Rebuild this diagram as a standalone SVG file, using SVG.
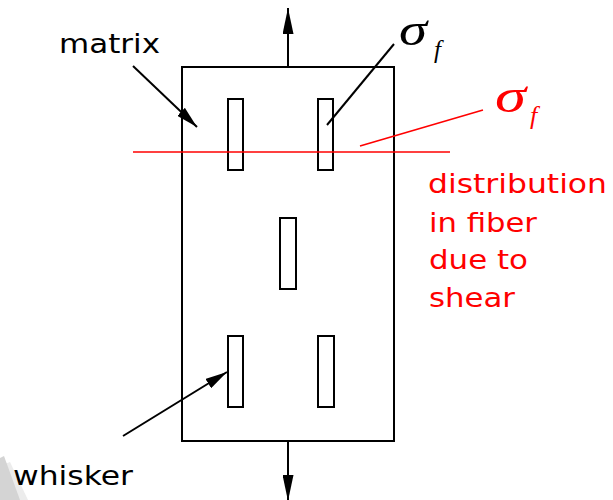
<svg xmlns="http://www.w3.org/2000/svg" width="613" height="500" viewBox="0 0 613 500">
<style>
.blk{fill:none;stroke:#000;stroke-width:2}
.fib{fill:#fff;stroke:#000;stroke-width:2}
.lbl{font-family:"DejaVu Sans","Verdana",sans-serif;font-size:26px}
.red{fill:#ff0000}
.sig{font-family:"Liberation Serif","Times New Roman",serif;font-style:italic}
.ln{fill:none;stroke:#000;stroke-width:2}
.rln{fill:none;stroke:#ff0000;stroke-width:1.6}
</style>
<defs>
<marker id="bigHead" markerUnits="userSpaceOnUse" markerWidth="26" markerHeight="11" refX="26" refY="5.5" orient="auto">
<path d="M0,0 L26,5.5 L0,11 z" fill="#000"/>
</marker>
<marker id="ptrHead" markerUnits="userSpaceOnUse" markerWidth="22" markerHeight="11" refX="22" refY="5.5" orient="auto">
<path d="M0,0 L22,5.5 L0,11 z" fill="#000"/>
</marker>
</defs>
<rect width="613" height="500" fill="#fff"/>
<g id="corner">
<polygon points="0,466 10,462 28,500 0,500" fill="#ececec"/>
<polygon points="0,458 4,456 20,500 0,500" fill="#d4d4d4"/>
</g>
<g id="matrix-block">
<rect x="182" y="67" width="212" height="374" class="blk"/>
</g>
<g id="fibers">
<rect id="fiber-tl" x="228" y="99" width="15" height="71" class="fib"/>
<rect id="fiber-tr" x="318" y="99" width="15" height="71" class="fib"/>
<rect id="fiber-mid" x="280" y="218" width="16" height="71" class="fib"/>
<rect id="fiber-bl" x="228" y="336" width="15" height="71" class="fib"/>
<rect id="fiber-br" x="318" y="336" width="16" height="71" class="fib"/>
</g>
<g id="connectors">
<line x1="288" y1="67" x2="288" y2="8" class="ln" marker-end="url(#bigHead)"/>
<line x1="288" y1="441" x2="288" y2="501" class="ln" marker-end="url(#bigHead)"/>
<line x1="133" y1="66" x2="197" y2="127" class="ln" marker-end="url(#ptrHead)"/>
<line x1="123" y1="436" x2="227" y2="372" class="ln" marker-end="url(#ptrHead)"/>
<line x1="327" y1="125" x2="394" y2="44" class="ln"/>
<line x1="133" y1="152" x2="450" y2="152" class="rln"/>
<line x1="360" y1="146" x2="483" y2="110" class="rln"/>
</g>
<g id="labels">
<text class="lbl" x="59" y="53" textLength="101" lengthAdjust="spacingAndGlyphs">matrix</text>
<text class="lbl" x="13" y="485" textLength="120" lengthAdjust="spacingAndGlyphs">whisker</text>
<text class="lbl red" x="428" y="193" textLength="179" lengthAdjust="spacingAndGlyphs">distribution</text>
<text class="lbl red" x="429" y="232" textLength="108" lengthAdjust="spacingAndGlyphs">in fiber</text>
<text class="lbl red" x="429" y="269" textLength="99" lengthAdjust="spacingAndGlyphs">due to</text>
<text class="lbl red" x="429" y="307" textLength="86" lengthAdjust="spacingAndGlyphs">shear</text>
<text class="sig" x="399" y="45" font-size="46" font-style="normal" textLength="28" lengthAdjust="spacingAndGlyphs">σ</text>
<text class="sig" x="434" y="58" font-size="25">f</text>
<text class="sig red" x="495" y="112" font-size="48" font-style="normal" textLength="31" lengthAdjust="spacingAndGlyphs">σ</text>
<text class="sig red" x="530" y="124" font-size="26">f</text>
</g>
</svg>
